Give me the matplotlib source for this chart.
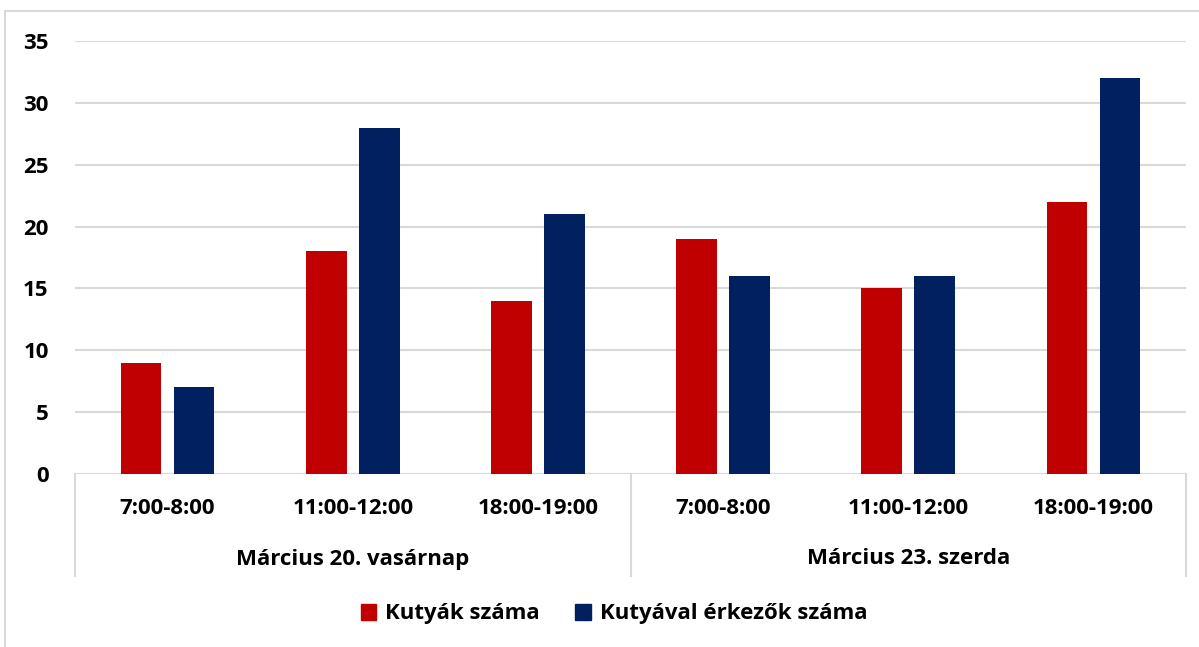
import matplotlib.pyplot as plt
import matplotlib.transforms as mtransforms
from matplotlib.patches import Rectangle, Patch
import numpy as np

plt.rcParams['font.family'] = ['Open Sans', 'DejaVu Sans']
plt.rcParams['font.weight'] = 'bold'

# data
days = ['Március 20. vasárnap', 'Március 23. szerda']
times = ['7:00-8:00', '11:00-12:00', '18:00-19:00',
         '7:00-8:00', '11:00-12:00', '18:00-19:00']
dogs = [9, 18, 14, 19, 15, 22]
owners = [7, 28, 21, 16, 16, 32]
series_names = ['Kutyák száma', 'Kutyával érkezők száma']

red = '#C00000'
navy = '#002060'
gray = '#D9D9D9'
fs = 16

W, H = 1199, 647
fig = plt.figure(figsize=(W / 100, H / 100), dpi=100)

# outer chart frame (partly cropped in the reference)
fig.patches.append(Rectangle((5 / W, -0.1), 1.2, 1.1 - 11 / H, transform=fig.transFigure,
                             fill=False, edgecolor=gray, linewidth=1.5))

x0, x1 = 75, 1186
y0, y35 = 474, 41
ax = fig.add_axes([x0 / W, 1 - y0 / H, (x1 - x0) / W, (y0 - y35) / H])

x = np.arange(len(times))
bw = 0.22
off = 0.143
ax.bar(x - off, dogs, bw, color=red, zorder=3)
ax.bar(x + off, owners, bw, color=navy, zorder=3)

ax.set_xlim(-0.5, len(times) - 0.5)
ax.set_ylim(0, 35)
ax.set_yticks(range(0, 36, 5))
ax.yaxis.grid(True, color=gray, linewidth=1.5, zorder=0)
ax.set_xticks([])
for s in ax.spines.values():
    s.set_visible(False)
ax.tick_params(axis='y', length=0, pad=19, labelsize=fs)
for lab in ax.get_yticklabels():
    lab.set_fontweight('bold')

# multi-level category axis
tr = mtransforms.blended_transform_factory(ax.transData, ax.transAxes)
ax.axhline(0, color=gray, linewidth=1.5, zorder=2)
hgt = y0 - y35
sep_bottom = -(576 - y0) / hgt
for xs in [-0.5, 2.5, 5.5]:
    ax.plot([xs, xs], [0, sep_bottom], color=gray, linewidth=1.5,
            transform=tr, clip_on=False)
for i, t in enumerate(times):
    ax.text(i, -(508 - y0) / hgt, t, transform=tr, ha='center', va='center',
            fontsize=fs, fontweight='bold')
for j, d in enumerate(days):
    ax.text(j * 3 + 1, -(559 - y0) / hgt, d, transform=tr, ha='center', va='center',
            fontsize=fs, fontweight='bold')

handles = [Patch(color=red), Patch(color=navy)]
fig.legend(handles, series_names, loc='center', bbox_to_anchor=(614 / W, 1 - 614 / H),
           ncol=2, frameon=False, handlelength=0.7, handleheight=0.7,
           handletextpad=0.4, columnspacing=1.6, prop={'weight': 'bold', 'size': fs})

fig.savefig('out.png', dpi=100)
